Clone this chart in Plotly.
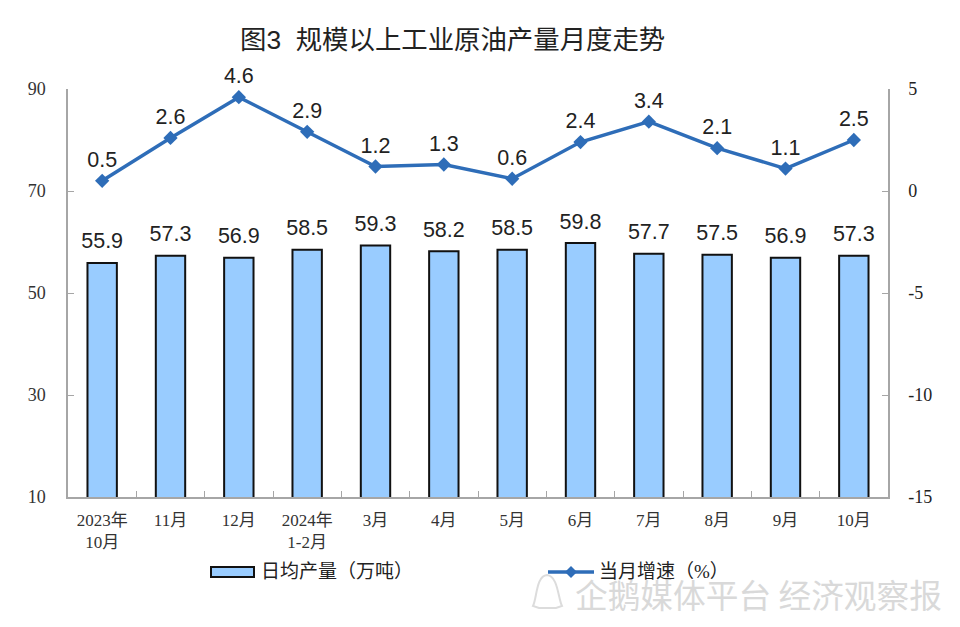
import plotly.graph_objects as go

categories = ["2023年<br>10月", "11月", "12月", "2024年<br>1-2月", "3月", "4月", "5月", "6月", "7月", "8月", "9月", "10月"]
daily_output = [55.9, 57.3, 56.9, 58.5, 59.3, 58.2, 58.5, 59.8, 57.7, 57.5, 56.9, 57.3]
growth = [0.5, 2.6, 4.6, 2.9, 1.2, 1.3, 0.6, 2.4, 3.4, 2.1, 1.1, 2.5]
left_ticks = [10, 30, 50, 70, 90]
right_ticks = [-15, -10, -5, 0, 5]
right_tick_labels = ["-15", "-10", "-5", "0", "5"]

PAGE = 8  # the page's body margin
W, H = 960 - 2 * PAGE, 627 - 2 * PAGE
L, R, T, B = 68, 888, 89, 497
CJK = "Liberation Serif, Noto Sans CJK SC"
SANS = "Liberation Sans, Noto Sans CJK SC"
BLUE = "#2E6DB8"
LABEL_SIZE = 21.5

def px(x):
    return (x - L) / (R - L)

def py(y):
    return (B - y) / (B - T)

fig = go.Figure()
fig.add_trace(go.Bar(
    x=categories, y=daily_output, width=0.43, name="日均产量（万吨）",
    marker=dict(color="#99CCFF", line=dict(color="#111111", width=2)),
    showlegend=False,
))
fig.add_trace(go.Scatter(
    x=categories, y=daily_output, mode="markers+text", name="日均产量标签",
    marker=dict(size=13, opacity=0),
    text=[f"{v:.1f}" for v in daily_output], textposition="top center",
    textfont=dict(family=SANS, size=LABEL_SIZE, color="#222222"), cliponaxis=False,
    showlegend=False, hoverinfo="skip",
))
fig.add_trace(go.Scatter(
    x=categories, y=growth, yaxis="y2", mode="lines+markers", name="当月增速（%）",
    line=dict(color=BLUE, width=3.5),
    marker=dict(symbol="diamond", size=11, color=BLUE),
    cliponaxis=False, showlegend=False,
))
fig.add_trace(go.Scatter(
    x=categories, y=growth, yaxis="y2", mode="markers+text", name="当月增速标签",
    marker=dict(size=12, opacity=0),
    text=[f"{v:.1f}" for v in growth], textposition="top center",
    textfont=dict(family=SANS, size=LABEL_SIZE, color="#222222"), cliponaxis=False,
    showlegend=False, hoverinfo="skip",
))

axis_line = dict(showline=True, linecolor="#A6A6A6", linewidth=1.5, ticks="inside",
                 tickcolor="#A6A6A6", ticklen=6, tickwidth=1, showgrid=False, zeroline=False)

shapes = [
    dict(type="rect", xref="paper", yref="paper", x0=px(211), x1=px(254), y0=py(577), y1=py(567),
         fillcolor="#99CCFF", line=dict(color="#111111", width=2)),
    dict(type="line", xref="paper", yref="paper", x0=px(548), x1=px(594), y0=py(572), y1=py(572),
         line=dict(color=BLUE, width=3.5)),
    dict(type="path", xref="paper", yref="paper", fillcolor=BLUE, line=dict(width=0),
         path=f"M {px(565)} {py(572)} L {px(571)} {py(566)} L {px(577)} {py(572)} L {px(571)} {py(578)} Z"),
    dict(type="path", xref="paper", yref="paper", fillcolor="rgba(0,0,0,0)",
         line=dict(color="#DCDCDC", width=2),
         path=(f"M {px(533)} {py(606)} C {px(537)} {py(598)} {px(536)} {py(576)} {px(547)} {py(575)} "
               f"C {px(558)} {py(576)} {px(558)} {py(598)} {px(562)} {py(606)} "
               f"L {px(556)} {py(608)} L {px(539)} {py(608)} Z")),
]

annotations = [
    dict(text="图3  规模以上工业原油产量月度走势", xref="paper", yref="paper", x=px(452.5), y=py(40),
         xanchor="center", yanchor="middle", showarrow=False,
         font=dict(family=SANS, size=26.4, color="#222222")),
    dict(text="日均产量（万吨）", xref="paper", yref="paper", x=px(259), y=py(571),
         xanchor="left", yanchor="middle", showarrow=False,
         font=dict(family=CJK, size=19, color="#222222")),
    dict(text="当月增速（%）", xref="paper", yref="paper", x=px(597), y=py(571),
         xanchor="left", yanchor="middle", showarrow=False,
         font=dict(family=CJK, size=19, color="#222222")),
    dict(text="企鹅媒体平台 经济观察报", xref="paper", yref="paper", x=px(573), y=py(593),
         xanchor="left", yanchor="middle", showarrow=False,
         font=dict(family="Noto Sans CJK SC", size=32.7, color="#D9D9D9")),
]

fig.update_layout(
    width=W, height=H, autosize=False,
    margin=dict(l=L - PAGE, r=W + PAGE - R, t=T - PAGE, b=H + PAGE - B),
    paper_bgcolor="white", plot_bgcolor="white",
    xaxis=dict(type="category", tickson="boundaries", categoryorder="array", categoryarray=categories,
               range=[-0.5, len(categories) - 0.5],
               tickfont=dict(family=CJK, size=17, color="#333333"), tickangle=0, ticklabelstandoff=7, **axis_line),
    yaxis=dict(range=[10, 90], tickvals=left_ticks, tickfont=dict(family="Liberation Serif", size=18, color="#333333"),
               ticklabelstandoff=17, **axis_line),
    yaxis2=dict(range=[-15, 5], tickvals=right_ticks, ticktext=right_tick_labels, overlaying="y", side="right",
                tickfont=dict(family="Liberation Serif", size=18, color="#222222"), ticklabelstandoff=15, **axis_line),
    shapes=shapes, annotations=annotations,
)

fig.write_html("out.html")
